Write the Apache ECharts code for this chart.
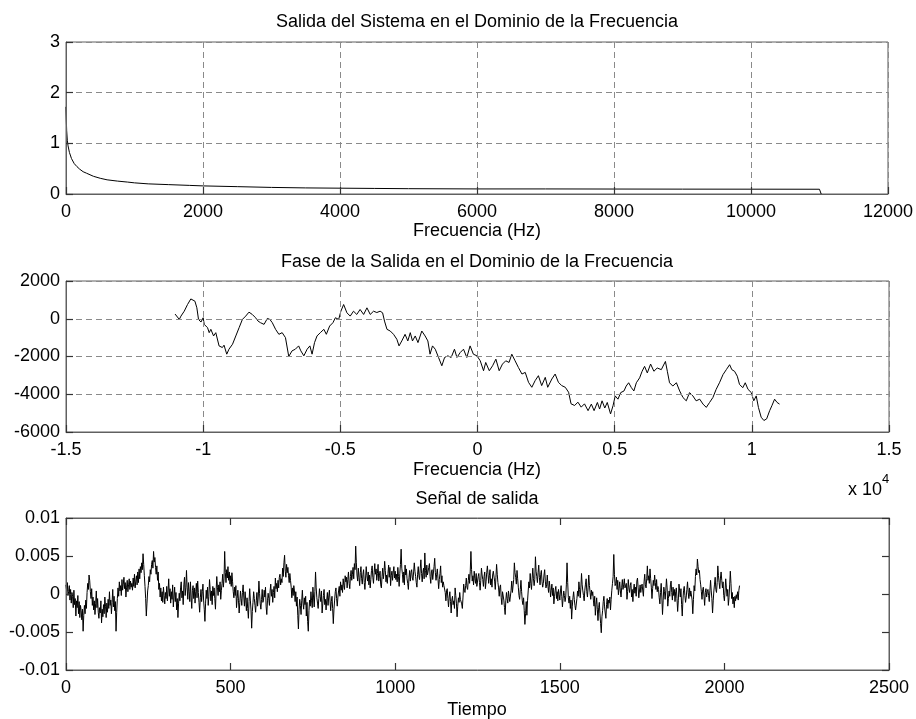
<!DOCTYPE html>
<html>
<head>
<meta charset="utf-8">
<script src="https://cdn.jsdelivr.net/npm/echarts@6/dist/echarts.min.js"></script>
</head>
<body style="margin:0">
<div id="c" style="width:916px;height:719px"></div>
<script>
// ---- Plot 1: magnitude ----
var magFreq = [0, 5, 10, 20, 30, 50, 80, 120, 160, 200, 250, 300, 400, 500, 600, 750, 900, 1000, 1200, 1500, 1800, 2000, 2500, 3000, 3500, 4000, 4500, 5000, 6000, 7000, 8000, 9000, 10000, 11000, 11025, 11025];
var magVal = [1.72, 1.45, 1.25, 1.05, 0.95, 0.82, 0.70, 0.60, 0.54, 0.49, 0.44, 0.41, 0.35, 0.31, 0.28, 0.255, 0.235, 0.22, 0.20, 0.185, 0.17, 0.16, 0.145, 0.13, 0.12, 0.115, 0.11, 0.105, 0.10, 0.10, 0.098, 0.096, 0.095, 0.094, 0.09, 0];

// ---- Plot 2: phase ----
var phaseFreq = [-11025,-10870,-10810,-10690,-10570,-10450,-10390,-10300,-10230,-10170,-10080,-10000,-9960,-9840,-9780,-9720,-9620,-9540,-9420,-9300,-9240,-9140,-9060,-8930,-8810,-8690,-8570,-8450,-8330,-8210,-8090,-8000,-7910,-7780,-7660,-7570,-7480,-7360,-7240,-7120,-7000,-6880,-6760,-6640,-6520,-6440,-6330,-6210,-6110,-6030,-5940,-5850,-5730,-5600,-5510,-5390,-5270,-5180,-5060,-4980,-4880,-4760,-4640,-4520,-4400,-4280,-4150,-4030,-3910,-3790,-3670,
-3550,-3460,-3390,-3300,-3180,-3060,-2940,-2860,-2760,-2640,-2540,-2450,-2370,-2270,-2170,-2030,-1910,-1810,-1730,-1640,-1540,-1420,-1300,-1200,-1080,-960,-840,-750,-630,-510,-390,-270,-150,-20,100,220,300,430,550,670,790,910,1030,1150,1250,1370,1490,1620,1740,1860,1980,2100,2220,2340,2470,2560,2710,2830,2950,3070,3200,3320,3410,3540,3660,3780,3900,
3930,4030,4150,4250,4370,4450,4540,4640,4730,4850,4940,5020,5120,5220,5340,5420,5510,5610,5700,5790,5910,6000,6090,6190,6310,6430,6550,6700,6850,6920,7000,7120,7250,7370,7490,7610,7730,7850,7970,8100,8220,8340,8460,8580,8700,8820,8950,9070,9190,9270,9370,9470,9550,9670,9760,9860,9980,10070,10160,10240,10340,10440,10540,10650,10730,10830,10920,11010];
var phaseVal = [250,-35,140,400,754,1050,1105,930,580,-35,-175,53,-300,-475,-737,-560,-912,-737,-1440,-1525,-1400,-1877,-1614,-1350,-912,-474,-35,140,350,228,53,-123,-210,-298,18,-35,-210,-561,-824,-737,-1000,-2000,-1700,-1614,-1438,-1700,-1965,-1614,-1438,-1877,-1263,-912,-737,-561,-824,-386,-210,53,-35,400,754,316,140,400,228,491,228,579,228,400,330,
400,316,-123,-561,-650,-825,-1087,-1438,-1175,-825,-1175,-737,-1175,-912,-1263,-650,-912,-1175,-1877,-1438,-1614,-2052,-2491,-2052,-1965,-2052,-1614,-2052,-1790,-1614,-2052,-1438,-1877,-1965,-2228,-2754,-2315,-2754,-2491,-2140,-2754,-2403,-2228,-2315,-1877,-2228,-2578,-2929,-2842,-3368,-3631,-3280,-3017,-3543,-3105,-3631,-3192,-2929,-3368,-3543,-3631,-3894,-4508,-4596,-4420,-4683,-4508,
-4435,-4870,-4522,-4870,-4435,-4783,-4348,-4730,-4435,-5043,-4609,-4087,-4261,-3913,-3826,-3565,-3391,-3652,-3826,-3391,-3130,-2783,-2522,-2870,-2400,-2783,-2609,-2696,-2261,-2783,-3391,-3565,-3391,-3826,-4174,-4348,-3913,-4087,-4348,-4261,-4522,-4696,-4435,-4174,-3739,-3391,-2957,-2696,-2435,-2696,-2783,-3043,-3478,-3652,-3391,-3739,-3913,-4348,-4087,-4696,-5217,-5391,-5304,-4870,-4609,-4261,-4435,-4522];

// ---- Plot 3: output signal (values in units of 1e-3, one every 2 samples) ----
var sigStep = 2;
var sigValMilli = [
1.2,0.4,1.5,-0.2,0.3,1.1,-0.8,0.6,-1.2,0.2,-0.3,-1.8,0.5,-1.4,-0.6,-2.9,-0.9,-1.8,-0.2,-2.6,-1.0,-3.1,-1.5,-2.2,-3.4,
-2.0,-4.9,-2.8,-1.5,-2.6,-0.8,-1.9,0.2,1.4,0.6,2.5,1.8,0.3,-0.6,0.7,-1.5,-0.4,-2.1,-0.9,-2.7,-1.3,0.4,-1.8,-0.6,-2.4,
-3.2,-1.8,-2.5,-0.9,-3.8,-2.0,-3.0,-1.4,-2.6,-0.4,-1.6,-3.1,-1.2,-2.4,-0.7,-1.9,0.3,-1.5,-0.8,-2.6,-1.1,0.6,-1.7,-0.3,-2.2,
-1.0,-4.9,-2.4,-0.6,0.8,-0.3,1.6,0.4,1.1,-0.2,1.9,0.5,1.3,2.2,0.7,1.5,-0.4,0.9,1.8,0.3,1.2,2.0,0.6,1.7,0.9,
1.4,0.5,2.1,1.0,2.6,0.8,1.7,2.4,1.2,2.9,1.5,3.3,2.0,3.6,2.8,4.1,3.2,5.3,3.9,2.4,1.0,-0.6,-2.9,-1.2,0.4,
1.1,2.3,1.6,3.2,2.6,3.9,4.4,3.4,5.6,4.2,4.8,3.5,2.6,3.7,1.8,2.9,0.6,1.4,-0.4,0.8,-0.9,0.3,-1.1,0.9,-0.2,
-1.3,0.2,-0.6,1.0,-0.9,0.4,2.0,-0.3,0.7,-1.2,0.3,-0.7,1.2,-1.7,-0.4,0.9,-1.0,0.2,-2.1,-0.6,-3.1,-1.2,0.1,-0.9,0.8,
1.6,-0.5,0.4,-1.4,1.2,2.2,-0.2,0.9,3.1,0.8,-0.7,1.5,0.3,-1.0,1.6,-0.4,-1.9,0.5,1.1,-0.6,0.8,-1.2,0.3,1.4,-0.5,
1.7,0.2,-1.1,-2.4,-0.5,0.6,-1.0,0.3,1.3,-0.8,-2.0,-3.6,-1.2,0.5,-0.6,0.9,-1.5,-0.3,1.9,0.6,-0.9,0.4,-1.4,1.0,-0.2,
0.8,-0.6,-2.0,0.4,2.3,0.9,-0.2,1.2,0.3,1.6,-0.7,0.5,1.4,2.6,0.9,2.0,5.6,2.8,1.5,3.2,2.1,3.6,1.8,2.9,1.3,
2.4,1.0,2.8,1.6,0.3,-0.5,0.9,-0.2,1.1,-1.8,-0.6,0.5,-0.9,-2.5,-1.1,0.4,-0.6,-1.5,0.2,1.2,-0.4,-1.6,0.3,-0.8,-2.2,
-0.5,-1.9,-3.2,-1.0,0.7,-0.8,-2.1,-4.5,-2.3,-1.1,0.3,-0.6,-1.5,-2.4,-0.9,0.2,-1.6,-0.4,1.7,0.1,-1.3,-2.0,-0.7,0.6,-1.1,
-0.8,0.5,-0.4,0.9,-1.7,-2.7,-0.9,0.1,-0.6,-1.5,0.4,1.3,-0.3,0.6,-1.1,0.2,1.0,-0.5,2.1,0.7,1.4,0.3,1.8,0.8,2.2,
2.6,1.2,2.0,1.5,3.4,2.3,4.1,5.1,3.0,2.2,3.9,2.8,3.5,2.4,1.5,2.7,1.8,0.9,-0.5,0.8,-0.2,1.1,0.4,-1.0,0.3,
-1.6,-0.4,-2.8,-4.6,-2.0,-0.7,-1.5,-2.7,-0.9,0.5,-1.2,-2.0,-0.5,-1.4,-0.3,-2.9,-1.1,-3.6,-4.9,-2.2,-0.8,-1.6,0.3,-0.9,-1.8,
0.9,-0.4,-1.7,0.3,2.9,0.8,-0.5,-1.2,-1.9,-0.6,0.7,-0.3,-1.0,0.4,-2.5,-1.3,-0.2,0.6,-1.4,-0.7,-2.1,-0.8,0.2,-1.5,-0.4,
0.5,-0.8,-2.2,-1.0,-0.3,-1.9,-3.9,-2.0,-0.8,0.3,0.8,-0.6,-1.6,-0.4,0.4,1.0,-0.3,1.6,0.5,1.2,0.2,2.0,1.1,0.6,2.4,
1.6,2.2,0.8,1.9,2.9,1.4,0.7,2.3,3.1,1.8,2.6,3.5,2.0,4.0,3.2,6.3,4.1,2.5,1.7,3.4,2.2,1.1,2.8,3.6,2.0,
1.3,2.6,3.2,1.5,0.6,2.1,3.6,2.4,1.7,2.9,1.2,2.5,0.8,1.9,3.1,3.7,2.2,1.4,2.8,4.0,2.6,3.3,1.8,2.7,3.9,
1.7,2.4,3.0,1.2,0.8,2.3,3.4,2.0,2.8,4.3,3.1,1.6,2.5,1.4,2.7,3.8,2.2,3.5,1.1,2.4,3.0,1.8,2.9,3.6,2.1,
3.0,1.9,2.6,1.6,3.5,2.3,1.0,2.7,3.9,5.9,3.4,2.6,1.5,2.9,1.2,3.8,2.5,3.3,2.0,1.4,0.6,2.2,3.1,1.7,2.8,
3.2,2.1,1.8,2.9,4.1,3.0,2.3,1.5,0.9,2.6,3.6,2.4,1.9,3.3,4.5,2.7,1.6,2.8,3.4,2.0,5.4,3.1,2.2,3.8,2.5,
2.7,3.5,4.0,2.3,1.4,2.9,3.2,1.9,2.1,3.6,4.7,2.8,1.8,2.6,3.3,2.0,0.7,1.9,2.7,3.7,1.5,2.4,0.9,1.6,1.1,
1.3,0.2,-0.9,0.4,0.7,-0.6,-1.7,-0.4,0.3,-1.0,-2.5,-0.8,-0.3,-1.4,-0.9,-1.9,0.8,-0.2,-1.2,-3.0,-1.6,-0.5,-1.1,0.2,-0.7,
-0.5,-1.3,-1.9,-0.4,1.3,0.5,0.2,1.1,2.1,0.9,0.6,1.8,2.6,1.4,3.0,5.6,3.2,1.7,2.4,1.2,3.0,2.0,1.4,2.7,1.0,
1.1,2.3,2.7,1.5,0.5,1.8,3.4,2.5,1.9,1.0,2.3,2.9,0.7,1.6,2.8,3.7,2.6,1.4,2.4,3.2,1.2,2.0,0.9,2.5,3.0,
2.9,1.7,0.6,2.2,3.9,2.6,1.5,0.8,-0.3,0.9,1.2,-0.5,-1.4,0.3,0.5,-0.8,-1.8,-2.7,-0.9,0.2,-0.6,-1.2,0.4,-0.3,-1.0,
-1.1,0.5,1.7,0.2,0.4,1.9,4.1,2.8,2.2,1.3,3.1,2.0,0.9,-0.2,-0.7,0.6,1.8,0.3,-0.9,-1.4,-0.5,-2.2,-4.0,-2.6,-1.0,
-2.8,-0.9,0.4,1.6,0.8,2.7,1.4,0.6,2.1,3.4,2.0,1.1,1.9,4.9,3.0,2.3,1.5,2.8,3.8,2.2,1.2,2.6,3.1,1.6,0.9,
1.4,2.5,3.2,1.7,0.8,1.2,2.5,1.0,0.2,1.7,0.9,-0.4,0.5,1.3,-0.2,0.8,-1.3,-0.3,0.5,1.0,-0.6,0.3,-0.9,0.6,-0.1,
-0.8,0.4,1.1,-0.3,-1.7,-0.6,0.4,-0.2,-1.0,-0.4,1.3,4.1,1.5,-0.5,-1.2,-0.3,-1.9,-0.8,-3.3,-1.6,-0.5,0.3,-0.7,-1.5,-2.1,
-1.9,-0.6,0.4,-0.3,1.6,0.6,-0.5,0.8,2.7,1.2,0.4,-0.2,-0.9,0.5,1.3,2.0,0.3,-0.4,0.9,2.5,1.1,0.2,-0.7,0.5,-0.2,
0.3,-0.8,-1.6,-0.3,-2.8,-1.4,-0.5,-2.0,-3.5,-1.8,-1.1,-2.6,-3.9,-5.1,-3.0,-2.2,-1.0,-0.3,-1.7,-2.5,-3.2,-1.4,-0.6,-1.9,-0.8,
-1.2,-0.4,-2.1,-0.7,0.5,1.4,2.3,5.2,2.6,1.1,1.4,2.2,0.6,1.8,-0.1,0.7,1.6,0.4,-0.4,0.9,1.9,0.6,1.2,2.0,0.8,
0.7,1.4,-0.7,0.3,1.9,0.8,0.2,1.1,1.5,-0.4,0.6,-1.0,0.5,1.3,0.1,0.9,-0.3,1.7,2.1,0.8,-0.5,0.4,1.2,0.2,1.0,
1.3,0.4,-0.3,1.6,2.6,1.2,0.8,2.0,3.7,1.8,2.4,1.4,3.3,2.0,0.9,-0.6,0.7,1.8,1.1,2.5,1.5,0.6,1.9,0.3,1.0,
0.6,-0.5,-1.3,0.2,1.4,-0.4,-2.7,-0.9,0.9,0.3,-0.7,0.5,2.0,0.8,-1.6,-0.6,0.4,-0.3,1.2,1.7,0.2,-0.8,0.9,-0.2,0.6,
-1.0,0.3,0.8,-0.6,-2.3,-0.9,1.3,0.4,-0.4,0.7,-1.4,-2.9,-0.8,0.5,1.0,-0.2,-1.1,-0.4,0.6,1.6,0.2,-0.6,0.8,-0.3,0.4,
0.5,-0.8,-2.6,-0.7,1.1,0.4,2.3,3.3,2.5,4.6,3.6,2.8,3.1,1.9,1.2,0.3,-0.7,0.6,0.9,-0.3,-1.5,0.2,0.7,-0.4,0.3,
0.6,-0.2,-1.0,0.5,1.8,0.4,-0.6,-2.5,-0.9,0.4,1.3,2.2,0.6,0.2,1.5,3.7,2.4,1.5,0.7,2.1,2.9,1.8,0.8,1.6,-0.2,
-0.9,0.4,2.0,0.8,-0.3,0.6,-1.5,-0.5,1.2,3.0,1.4,-0.6,0.2,-1.3,-0.4,-1.8,-0.3,-0.9,-0.1,-0.6,0.3,-0.8,0.5,1.1
];

// ---- Text ----
var titles = ['Salida del Sistema en el Dominio de la Frecuencia', 'Fase de la Salida en el Dominio de la Frecuencia', 'Se\u00f1al de salida'];
var xLabels = ['Frecuencia (Hz)', 'Frecuencia (Hz)', 'Tiempo'];
var yTicks3 = {'0.01':'0.01','0.005':'0.005','0':'0','-0.005':'-0.005','-0.01':'-0.01'};

// build data pairs
var magData = magFreq.map(function(f, i){ return [f, magVal[i]]; });
var phaseData = phaseFreq.map(function(f, i){ return [f, phaseVal[i]]; });
var sigData = sigValMilli.map(function(v, i){ return [i * sigStep, v / 1000]; });

var FONT = '"Liberation Sans", Arial, sans-serif';
var FS = 18;
var BORDER = '#606060';

function mkAxis(grid, pos, min, max, interval, fmt, dashedGrid) {
  return {
    type: 'value', gridIndex: grid, position: pos, min: min, max: max, interval: interval, z: 10,
    axisLine: {show: true, onZero: false, lineStyle: {color: BORDER, width: 1}},
    axisTick: {show: true, inside: true, length: 7, lineStyle: {color: '#333', width: 1.2}},
    splitLine: {show: true, lineStyle: dashedGrid ? {color: '#8a8a8a', type: [6, 4], width: 1} : {color: 'rgba(0,0,0,0)', width: 0}},
    axisLabel: fmt ? {show: true, margin: (pos === 'left' ? 6 : 9), formatter: fmt, color: '#000', fontFamily: FONT, fontSize: FS} : {show: false}
  };
}

var chart = echarts.init(document.getElementById('c'));
var gridBase = {show: true, borderColor: BORDER, borderWidth: 1, left: 66, right: 27};
function line(xi, yi, data) {
  return {type: 'line', xAxisIndex: xi, yAxisIndex: yi, data: data, showSymbol: false,
    lineStyle: {color: '#000', width: 1}};
}

chart.setOption({
  animation: false,
  grid: [
    Object.assign({top: 42, height: 152}, gridBase),
    Object.assign({top: 281, height: 151}, gridBase),
    Object.assign({top: 518, height: 152}, gridBase)
  ],
  xAxis: [
    mkAxis(0, 'bottom', 0, 12000, 2000, function(v){ return String(v); }, true),
    mkAxis(1, 'bottom', -15000, 15000, 5000, function(v){ return String(Math.round(v / 1000) / 10); }, true),
    mkAxis(2, 'bottom', 0, 2500, 500, function(v){ return String(v); }, false),
    mkAxis(2, 'top', 0, 2500, 500, null, false)
  ],
  yAxis: [
    mkAxis(0, 'left', 0, 3, 1, function(v){ return String(v); }, true),
    mkAxis(1, 'left', -6000, 2000, 2000, function(v){ return String(v); }, true),
    mkAxis(2, 'left', -0.01, 0.01, 0.005, function(v){ var k = String(Math.round(v * 1000) / 1000); return yTicks3[k] || k; }, false),
    mkAxis(2, 'right', -0.01, 0.01, 0.005, null, false)
  ],
  series: [
    line(0, 0, magData),
    line(1, 1, phaseData),
    line(2, 2, sigData)
  ],
  graphic: [
    {type: 'text', x: 477, y: 22, style: {text: titles[0], fill: '#000', font: FS + 'px ' + FONT, textAlign: 'center', textVerticalAlign: 'middle'}},
    {type: 'text', x: 477, y: 231, style: {text: xLabels[0], fill: '#000', font: FS + 'px ' + FONT, textAlign: 'center', textVerticalAlign: 'middle'}},
    {type: 'text', x: 477, y: 262, style: {text: titles[1], fill: '#000', font: FS + 'px ' + FONT, textAlign: 'center', textVerticalAlign: 'middle'}},
    {type: 'text', x: 477, y: 470, style: {text: xLabels[1], fill: '#000', font: FS + 'px ' + FONT, textAlign: 'center', textVerticalAlign: 'middle'}},
    {type: 'text', x: 848, y: 490, style: {text: 'x 10', fill: '#000', font: FS + 'px ' + FONT, textAlign: 'left', textVerticalAlign: 'middle'}},
    {type: 'text', x: 882, y: 479, style: {text: '4', fill: '#000', font: '13px ' + FONT, textAlign: 'left', textVerticalAlign: 'middle'}},
    {type: 'text', x: 477, y: 499, style: {text: titles[2], fill: '#000', font: FS + 'px ' + FONT, textAlign: 'center', textVerticalAlign: 'middle'}},
    {type: 'text', x: 477, y: 710, style: {text: xLabels[2], fill: '#000', font: FS + 'px ' + FONT, textAlign: 'center', textVerticalAlign: 'middle'}}
  ]
});
</script>
</body>
</html>
